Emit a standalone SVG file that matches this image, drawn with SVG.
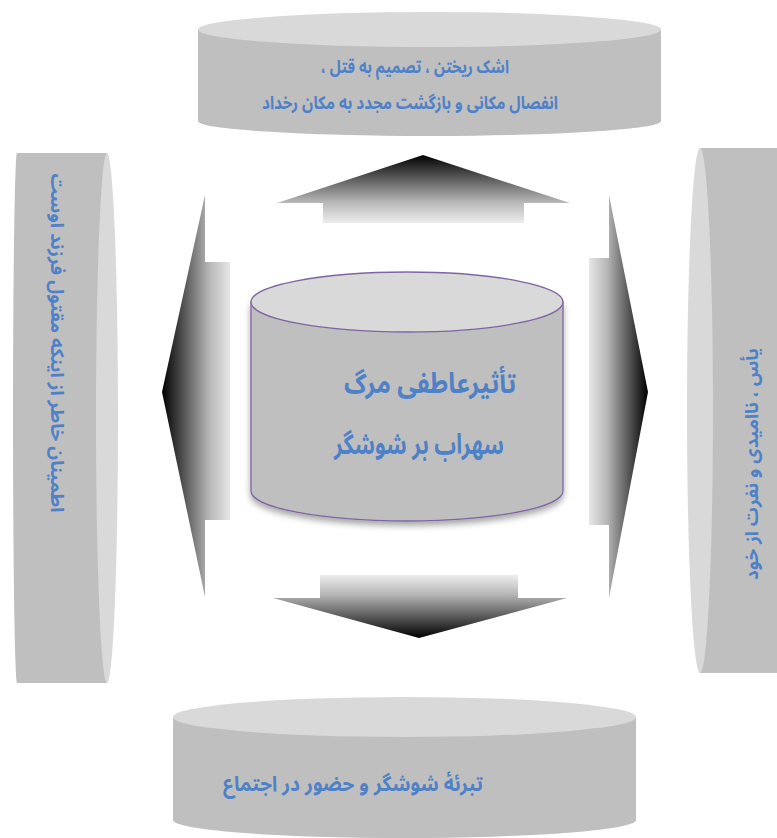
<svg xmlns="http://www.w3.org/2000/svg" width="777" height="838" viewBox="0 0 777 838">
<style>
.face{fill:#d9d9d9}
.body{fill:#bfbfbf}
.t{font-family:"Noto Sans Arabic","Noto Naskh Arabic","DejaVu Sans",sans-serif;font-weight:bold;fill:#4f81c7;text-anchor:middle}
</style>
<defs>
<linearGradient id="gUp" x1="0" y1="0" x2="0" y2="1"><stop offset="0" stop-color="#000"/><stop offset="0.7" stop-color="#b8b8b8"/><stop offset="1" stop-color="#ededed"/></linearGradient>
<linearGradient id="gDown" x1="0" y1="1" x2="0" y2="0"><stop offset="0" stop-color="#000"/><stop offset="0.7" stop-color="#b8b8b8"/><stop offset="1" stop-color="#ededed"/></linearGradient>
<linearGradient id="gLeft" x1="0" y1="0" x2="1" y2="0"><stop offset="0" stop-color="#000"/><stop offset="0.7" stop-color="#b8b8b8"/><stop offset="1" stop-color="#e6e6e6"/></linearGradient>
<linearGradient id="gRight" x1="1" y1="0" x2="0" y2="0"><stop offset="0" stop-color="#000"/><stop offset="0.7" stop-color="#b8b8b8"/><stop offset="1" stop-color="#e6e6e6"/></linearGradient>
<filter id="sh" x="-10%" y="-10%" width="120%" height="130%"><feDropShadow dx="0" dy="4" stdDeviation="3" flood-color="#000" flood-opacity="0.35"/></filter>
</defs>
<rect width="777" height="838" fill="#fff"/>

<g id="connectors">
<path d="M423,155 L570,203 L524,203 L524,223 L323,223 L323,203 L277,203 Z" fill="url(#gUp)"/>
<path d="M419,638 L567,598 L518,598 L518,575 L320,575 L320,598 L273,598 Z" fill="url(#gDown)"/>
<path d="M162,392 L205,195 L205,262 L230,262 L230,520 L205,520 L205,597 Z" fill="url(#gLeft)"/>
<path d="M648,392 L609,195 L609,258 L589,258 L589,525 L609,525 L609,598 Z" fill="url(#gRight)"/>
</g>

<g id="node-top">
<path class="body" d="M198,29.5 L661,29.5 L661,121 A231.5,15 0 0 1 198,121 Z"/>
<ellipse class="face" cx="429.5" cy="29.5" rx="231.5" ry="17.5"/>
<text class="t" direction="rtl" font-size="18" x="415" y="73" textLength="188" lengthAdjust="spacingAndGlyphs">اشک ریختن ، تصمیم به قتل ،</text>
<text class="t" direction="rtl" font-size="18" x="410" y="109" textLength="296" lengthAdjust="spacingAndGlyphs">انفصال مکانی و بازگشت مجدد به مکان رخداد</text>
</g>

<g id="node-left">
<path class="body" d="M107,153 L17,153 A4,265 0 0 0 17,683 L107,683 Z"/>
<ellipse class="face" cx="107" cy="418" rx="11" ry="265"/>
<text class="t" direction="rtl" font-size="18" transform="translate(57,343) rotate(90)" y="6" textLength="339" lengthAdjust="spacingAndGlyphs">اطمینان خاطر از اینکه مقتول فرزند اوست</text>
</g>

<g id="node-right">
<rect class="body" x="700" y="148" width="90" height="525"/>
<ellipse class="face" cx="700" cy="410.5" rx="13" ry="262.5"/>
<text class="t" direction="rtl" font-size="18" transform="translate(752,464) rotate(-90)" y="6" textLength="232" lengthAdjust="spacingAndGlyphs">یأس ، ناامیدی و نفرت از خود</text>
</g>

<g id="node-bottom">
<path class="body" d="M173,717 L636,717 L636,820 A231.5,18 0 0 1 173,820 Z"/>
<ellipse class="face" cx="404.5" cy="717" rx="231.5" ry="20"/>
<text class="t" direction="rtl" font-size="21" x="353" y="791" textLength="260" lengthAdjust="spacingAndGlyphs">تبرئۀ شوشگر و حضور در اجتماع</text>
</g>

<g id="node-center">
<path d="M251,302 L563,302 L563,491 A156,30 0 0 1 251,491 Z" fill="#bfbfbf" stroke="#8064a2" stroke-width="1.3" filter="url(#sh)"/>
<ellipse cx="407" cy="302" rx="156" ry="30" fill="#d9d9d9" stroke="#8064a2" stroke-width="1.3"/>
<text class="t" direction="rtl" font-size="28" x="430" y="393" textLength="172" lengthAdjust="spacingAndGlyphs">تأثیرعاطفی مرگ</text>
<text class="t" direction="rtl" font-size="28" x="419" y="454" textLength="170" lengthAdjust="spacingAndGlyphs">سهراب بر شوشگر</text>
</g>
</svg>
